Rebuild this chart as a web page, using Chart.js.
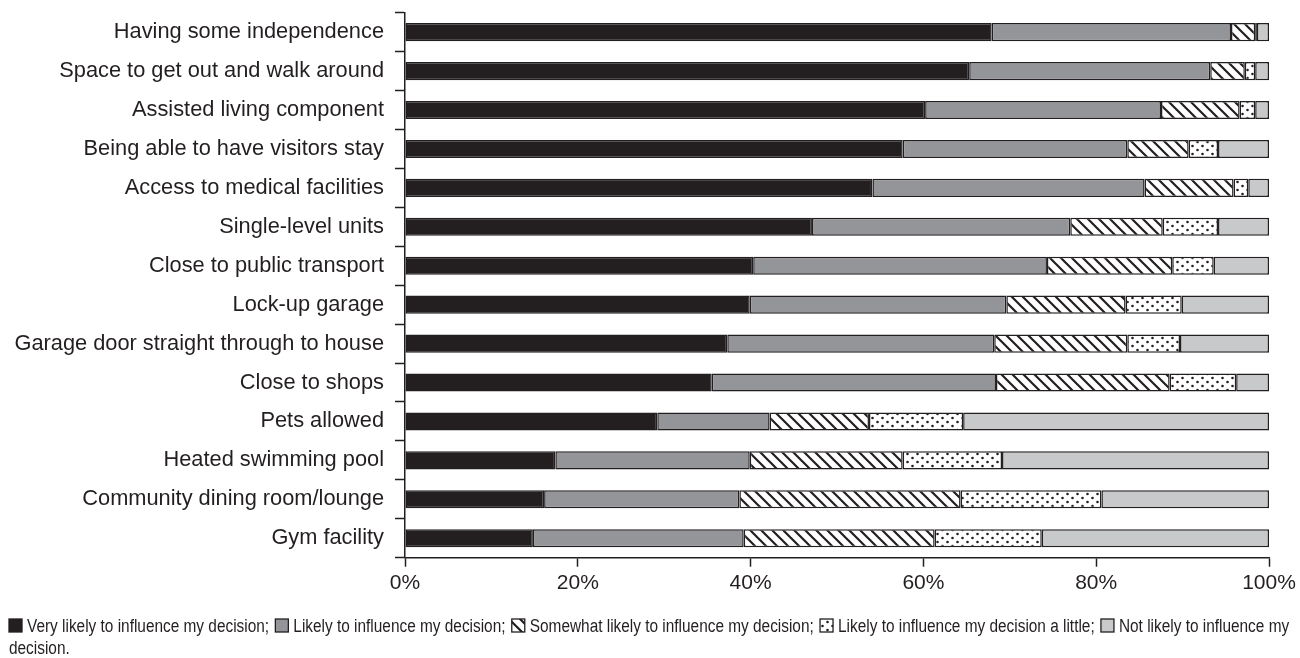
<!DOCTYPE html>
<html>
<head>
<meta charset="utf-8">
<script src="https://cdn.jsdelivr.net/npm/chart.js@4.4.1/dist/chart.umd.min.js"></script>
<style>
  html, body { margin: 0; padding: 0; background: #ffffff; }
  #wrap { width: 1300px; height: 658px; position: relative; }
</style>
</head>
<body>
<div id="wrap"><canvas id="chart" width="1300" height="658"></canvas></div>
<script>
// Features rated by how much they would influence the decision (percent of respondents)
const categories = [
  'Having some independence',
  'Space to get out and walk around',
  'Assisted living component',
  'Being able to have visitors stay',
  'Access to medical facilities',
  'Single-level units',
  'Close to public transport',
  'Lock-up garage',
  'Garage door straight through to house',
  'Close to shops',
  'Pets allowed',
  'Heated swimming pool',
  'Community dining room/lounge',
  'Gym facility'
];

const veryLikely = [67.9, 65.3, 60.2, 57.6, 54.1, 47.1, 40.3, 39.9, 37.3, 35.5, 29.2, 17.4, 16.1, 14.8];
const likely     = [27.7, 27.9, 27.3, 26.0, 31.5, 29.9, 34.0, 29.7, 30.9, 32.9, 13.0, 22.5, 22.6, 24.4];
const somewhat   = [2.8, 4.0, 9.1, 7.1, 10.3, 10.7, 14.5, 13.8, 15.4, 20.1, 11.5, 17.7, 25.6, 22.1];
const aLittle    = [0.2, 1.2, 1.8, 3.4, 1.7, 6.4, 4.8, 6.5, 6.1, 7.7, 10.9, 11.5, 16.3, 12.4];
const notLikely  = [1.4, 1.6, 1.6, 5.9, 2.4, 5.9, 6.4, 10.1, 10.3, 3.8, 35.4, 30.9, 19.4, 26.3];

const seriesNames = [
  'Very likely to influence my decision',
  'Likely to influence my decision',
  'Somewhat likely to influence my decision',
  'Likely to influence my decision a little',
  'Not likely to influence my decision'
];

const xTickValues = [0, 20, 40, 60, 80, 100];

const INK = '#231f20';
const FONT = '"Liberation Sans", Arial, Helvetica, sans-serif';

// Diagonal hatch fill ("\" direction)
function hatchPattern() {
  const s = 11;
  const c = document.createElement('canvas');
  c.width = s; c.height = s;
  const g = c.getContext('2d');
  g.fillStyle = '#ffffff';
  g.fillRect(0, 0, s, s);
  g.strokeStyle = INK;
  g.lineWidth = 2.2;
  g.beginPath();
  g.moveTo(-1, -1); g.lineTo(s + 1, s + 1);
  g.moveTo(s - 2, -2); g.lineTo(s + 2, 2);
  g.moveTo(-2, s - 2); g.lineTo(2, s + 2);
  g.stroke();
  return g.createPattern(c, 'repeat');
}

// Staggered dot fill
function dotPattern() {
  const w = 10, h = 8;
  const c = document.createElement('canvas');
  c.width = w; c.height = h;
  const g = c.getContext('2d');
  g.fillStyle = '#ffffff';
  g.fillRect(0, 0, w, h);
  g.fillStyle = INK;
  g.beginPath(); g.arc(2.5, 2, 1.3, 0, Math.PI * 2); g.fill();
  g.beginPath(); g.arc(7.5, 6, 1.3, 0, Math.PI * 2); g.fill();
  return g.createPattern(c, 'repeat');
}

const fills = [INK, '#939598', hatchPattern(), dotPattern(), '#c8c9cb'];
const seriesValues = [veryLikely, likely, somewhat, aLittle, notLikely];

const datasets = seriesValues.map((vals, i) => ({
  label: seriesNames[i],
  data: vals,
  backgroundColor: fills[i],
  borderColor: INK,
  borderWidth: 1.5,
  borderSkipped: false,
  categoryPercentage: 1.0,
  barPercentage: 0.465
}));

// Caption-style legend running across the bottom, wrapping word by word
const captionLegend = {
  id: 'captionLegend',
  afterDraw(chart) {
    const ctx = chart.ctx;
    const sx = 0.855;
    const fontPx = 18;
    const left = 9, right = 1296, lineH = 22, box = 13;
    let x = left, y = 632;
    ctx.save();
    ctx.font = `${fontPx}px ${FONT}`;
    ctx.textBaseline = 'alphabetic';
    const space = ctx.measureText(' ').width * sx;
    const sets = chart.data.datasets;
    sets.forEach((ds, i) => {
      if (x + box > right) { x = left; y += lineH; }
      ctx.fillStyle = ds.backgroundColor;
      ctx.fillRect(x, y - 13, box, box);
      ctx.strokeStyle = INK;
      ctx.lineWidth = 1.3;
      ctx.strokeRect(x, y - 13, box, box);
      x += box + 5;
      const text = ds.label + (i === sets.length - 1 ? '.' : ';');
      text.split(' ').forEach(word => {
        const ww = ctx.measureText(word).width * sx;
        if (x + ww > right) { x = left; y += lineH; }
        ctx.save();
        ctx.translate(x, y);
        ctx.scale(sx, 1);
        ctx.fillStyle = INK;
        ctx.fillText(word, 0, 0);
        ctx.restore();
        x += ww + space;
      });
      x += 2;
    });
    ctx.restore();
  }
};

new Chart(document.getElementById('chart'), {
  type: 'bar',
  data: { labels: categories, datasets },
  options: {
    indexAxis: 'y',
    responsive: false,
    animation: false,
    devicePixelRatio: 1,
    layout: { padding: { top: 12.7, left: 0, right: 31, bottom: 0 } },
    plugins: {
      legend: { display: false },
      tooltip: { enabled: false }
    },
    scales: {
      x: {
        stacked: true,
        min: 0,
        max: 100,
        afterBuildTicks(scale) {
          scale.ticks = xTickValues.map(v => ({ value: v }));
        },
        afterFit(scale) { scale.height = 658 - 557.7; },
        ticks: {
          callback: v => v + '%',
          color: INK,
          font: { family: FONT, size: 21 },
          padding: 4,
          maxRotation: 0
        },
        grid: {
          drawOnChartArea: false,
          drawTicks: true,
          tickLength: 9,
          tickWidth: 1.5,
          tickColor: INK
        },
        border: { display: true, color: INK, width: 1.5 }
      },
      y: {
        stacked: true,
        afterFit(scale) {
          scale.width = 405;
          scale.paddingTop = 0;
          scale.paddingBottom = 0;
        },
        ticks: {
          color: INK,
          font: { family: FONT, size: 21.8 },
          padding: 11,
          autoSkip: false
        },
        grid: {
          offset: true,
          drawOnChartArea: false,
          drawTicks: true,
          tickLength: 10,
          tickWidth: 1.5,
          tickColor: INK
        },
        border: { display: true, color: INK, width: 1.5 }
      }
    }
  },
  plugins: [captionLegend]
});
</script>
</body>
</html>
